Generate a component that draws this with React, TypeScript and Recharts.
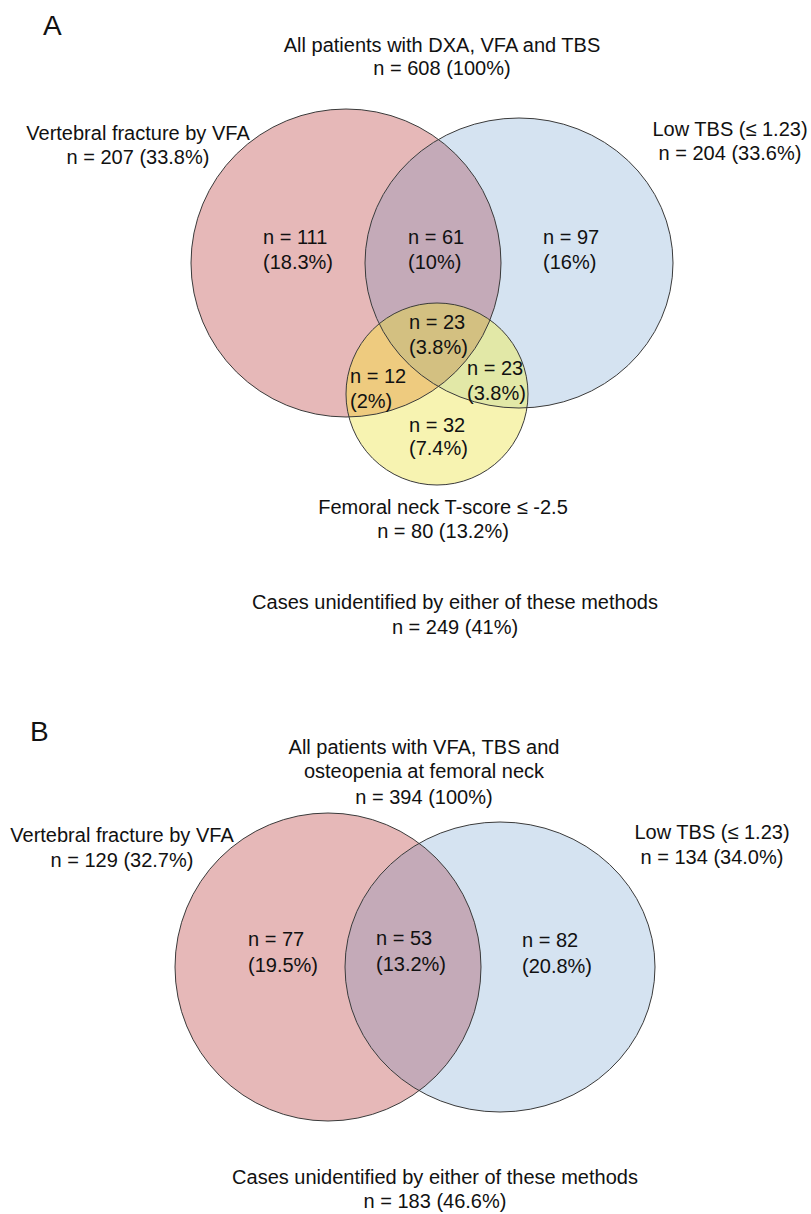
import React from 'react';
import { ScatterChart, Scatter, XAxis, YAxis } from 'recharts';

// ---------- data ----------
const totalA = 608;
const titleA = ['All patients with DXA, VFA and TBS'];
const setNamesA = ['Vertebral fracture by VFA', 'Low TBS (≤ 1.23)', 'Femoral neck T-score ≤ -2.5'];
const setCountsA = [207, 204, 80];
const setPctA = ['33.8%', '33.6%', '13.2%'];
// regions: VFA only, VFA∩TBS, TBS only, all three, VFA∩FN, TBS∩FN, FN only
const regionCountsA = [111, 61, 97, 23, 12, 23, 32];
const regionPctA = ['18.3%', '10%', '16%', '3.8%', '2%', '3.8%', '7.4%'];
const unidentifiedA = 249;
const unidentifiedPctA = '41%';

const totalB = 394;
const titleB = ['All patients with VFA, TBS and', 'osteopenia at femoral neck'];
const setNamesB = ['Vertebral fracture by VFA', 'Low TBS (≤ 1.23)'];
const setCountsB = [129, 134];
const setPctB = ['32.7%', '34.0%'];
// regions: VFA only, VFA∩TBS, TBS only
const regionCountsB = [77, 53, 82];
const regionPctB = ['19.5%', '13.2%', '20.8%'];
const unidentifiedB = 183;
const unidentifiedPctB = '46.6%';
const unidentifiedText = 'Cases unidentified by either of these methods';

// ---------- layout (chart domain units) ----------
const W = 811;
const H = 1214;
const SX = W / 811;
const SY = H / 1214;
const FONT = '"Liberation Sans", Arial, Helvetica, sans-serif';

const setColors = ['#e6b8b8', '#d5e3f1', '#f7f3b1'];
const overlapColors = { rb: '#c4aab8', ry: '#eecb7f', by: '#e2e8a7', rby: '#d3c081' };

const circleGeomA = [
  { cx: 346, cy: 263, rx: 155, ry: 154 },
  { cx: 519, cy: 263, rx: 154, ry: 145 },
  { cx: 437, cy: 394, rx: 91, ry: 91 },
];
const circleGeomB = [
  { cx: 328, cy: 967, rx: 153, ry: 154 },
  { cx: 500, cy: 967, rx: 155, ry: 145 },
];

const regionPosA = [
  [263, 237], [408, 237], [543, 237], [409, 322], [350, 376], [467, 368], [409, 425],
];
const regionPosB = [[248, 939], [376, 938], [522, 940]];
const setLabelPosA = [[138, 133], [730, 129], [443, 507]];
const setLabelPosB = [[122, 835], [712, 832]];

// ---------- build series ----------
type Circ = { id: string; x: number; y: number; rx: number; ry: number; fill: string };
const mkCircles = (pref: string, geom: any[]): Circ[] =>
  geom.map((g, i) => ({ id: `${pref}c${i}`, x: g.cx, y: g.cy, rx: g.rx, ry: g.ry, fill: setColors[i] }));

const circlesA = mkCircles('a', circleGeomA);
const circlesB = mkCircles('b', circleGeomB);
const allCircles = [...circlesA, ...circlesB];

const mkOverlap = (base: Circ, clips: Circ[], fill: string) => ({
  x: base.x, y: base.y, rx: base.rx, ry: base.ry, fill, clips: clips.map((c) => c.id),
});
const overlaps = [
  mkOverlap(circlesA[1], [circlesA[0]], overlapColors.rb),
  mkOverlap(circlesA[2], [circlesA[0]], overlapColors.ry),
  mkOverlap(circlesA[2], [circlesA[1]], overlapColors.by),
  mkOverlap(circlesA[2], [circlesA[0], circlesA[1]], overlapColors.rby),
  mkOverlap(circlesB[1], [circlesB[0]], overlapColors.rb),
];

type Lbl = { x: number; y: number; text: string; anchor: string; size: number };
const labels: Lbl[] = [];
const add = (x: number, y: number, text: string, anchor = 'middle', size = 20) =>
  labels.push({ x, y, text, anchor, size });

// panel A
add(43, 25, 'A', 'start', 28);
titleA.forEach((t, i) => add(442, 45 + i * 23, t));
add(442, 45 + titleA.length * 23, `n = ${totalA} (100%)`);
setNamesA.forEach((nm, i) => {
  add(setLabelPosA[i][0], setLabelPosA[i][1], nm);
  add(setLabelPosA[i][0], setLabelPosA[i][1] + 24, `n = ${setCountsA[i]} (${setPctA[i]})`);
});
regionCountsA.forEach((n, i) => {
  add(regionPosA[i][0], regionPosA[i][1], `n = ${n}`, 'start');
  add(regionPosA[i][0], regionPosA[i][1] + (i === 6 ? 23 : 25), `(${regionPctA[i]})`, 'start');
});
add(455, 602, unidentifiedText);
add(455, 627, `n = ${unidentifiedA} (${unidentifiedPctA})`);

// panel B
add(30, 731, 'B', 'start', 28);
titleB.forEach((t, i) => add(424, 747 + i * 24, t));
add(424, 747 + titleB.length * 25, `n = ${totalB} (100%)`);
setNamesB.forEach((nm, i) => {
  add(setLabelPosB[i][0], setLabelPosB[i][1], nm);
  add(setLabelPosB[i][0], setLabelPosB[i][1] + 25, `n = ${setCountsB[i]} (${setPctB[i]})`);
});
regionCountsB.forEach((n, i) => {
  add(regionPosB[i][0], regionPosB[i][1], `n = ${n}`, 'start');
  add(regionPosB[i][0], regionPosB[i][1] + 26, `(${regionPctB[i]})`, 'start');
});
add(435, 1177, unidentifiedText);
add(435, 1201, `n = ${unidentifiedB} (${unidentifiedPctB})`);

// ---------- shapes ----------
const FillShape = (props: any) => {
  const { cx, cy, payload } = props;
  const rx = payload.rx * SX;
  const ry = payload.ry * SY;
  return (
    <g>
      <defs>
        <clipPath id={payload.id}>
          <ellipse cx={cx} cy={cy} rx={rx} ry={ry} />
        </clipPath>
      </defs>
      <ellipse cx={cx} cy={cy} rx={rx} ry={ry} fill={payload.fill} stroke="none" />
    </g>
  );
};

const OverlapShape = (props: any) => {
  const { cx, cy, payload } = props;
  let node: any = (
    <ellipse cx={cx} cy={cy} rx={payload.rx * SX} ry={payload.ry * SY} fill={payload.fill} stroke="none" />
  );
  payload.clips.forEach((id: string) => {
    node = <g clipPath={`url(#${id})`}>{node}</g>;
  });
  return node;
};

const OutlineShape = (props: any) => {
  const { cx, cy, payload } = props;
  return (
    <ellipse cx={cx} cy={cy} rx={payload.rx * SX} ry={payload.ry * SY} fill="none" stroke="#3a3a3a" strokeWidth={1} />
  );
};

const LabelShape = (props: any) => {
  const { cx, cy, payload } = props;
  return (
    <text
      x={cx}
      y={cy + payload.size * 0.36}
      textAnchor={payload.anchor}
      fontSize={payload.size}
      fontFamily={FONT}
      fill="#111"
    >
      {payload.text}
    </text>
  );
};

export default function App() {
  return (
    <div style={{ position: 'absolute', left: 0, top: 0, background: '#fff' }}>
      <ScatterChart width={W} height={H} margin={{ top: 0, right: 0, bottom: 0, left: 0 }}>
        <XAxis type="number" dataKey="x" domain={[0, 811]} hide />
        <YAxis type="number" dataKey="y" domain={[0, 1214]} reversed hide />
        <Scatter data={allCircles} shape={FillShape} isAnimationActive={false} />
        <Scatter data={overlaps} shape={OverlapShape} isAnimationActive={false} />
        <Scatter data={allCircles} shape={OutlineShape} isAnimationActive={false} />
        <Scatter data={labels} shape={LabelShape} isAnimationActive={false} />
      </ScatterChart>
    </div>
  );
}
